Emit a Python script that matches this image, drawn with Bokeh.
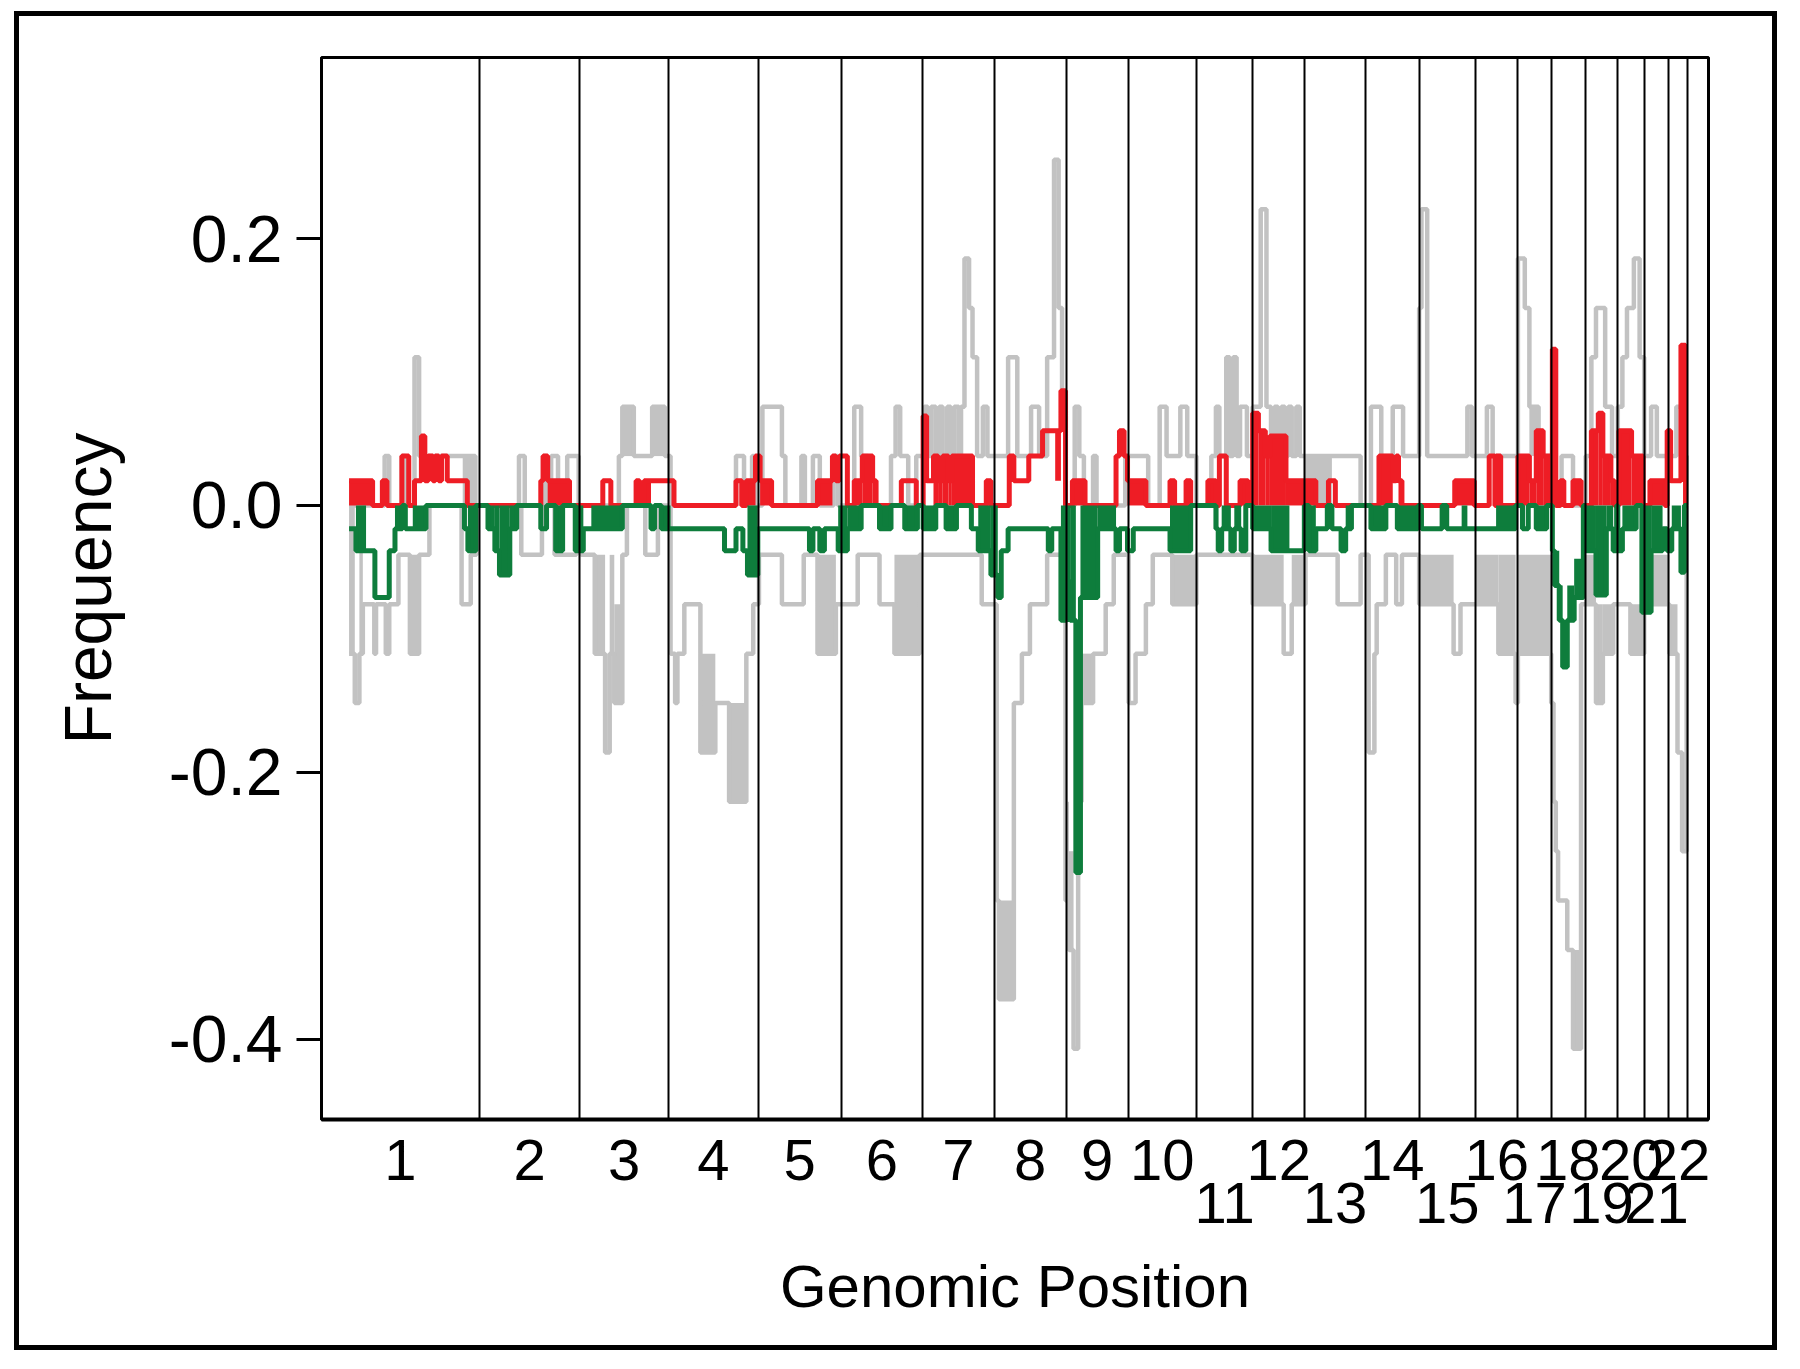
from bokeh.plotting import figure
from bokeh.models import FixedTicker, LinearAxis, Range1d
from bokeh.embed import file_html
from bokeh.resources import INLINE

# ---------------- data ----------------
# genomic position is in clone-index units; chromosome end positions
chrom_ends = [137.5, 225, 302, 380.5, 452.5, 523.5, 586, 648.5, 702.5, 762, 811,
              856.5, 909, 956, 1005, 1042, 1071, 1100.5, 1129, 1152.5, 1173, 1190]
chrom_names = [str(i) for i in range(1, 23)]
y_ticks = [-0.4, -0.2, 0.0, 0.2]
y_tick_labels = ["-0.4", "-0.2", "0.0", "0.2"]
data_end = 1190

# steps: (start position, frequency, dense-to level or None)
gain_steps = [
    (24, 0.0185, 0), (44.5, 0, None), (53, 0.0185, None), (57, 0, None), (70, 0.037, None), (76, 0, None),
    (81, 0.0185, None), (87, 0.052, None), (90, 0.0185, None), (93, 0.037, None), (97, 0.0185, None),
    (99, 0.037, None), (102, 0.0185, None), (104.5, 0.037, None), (109.5, 0.0185, None), (127, 0, None),
    (191, 0.0185, None), (193, 0.037, None), (197, 0.0185, 0), (216, 0, None),
    (245, 0.0185, None), (252, 0, None), (274, 0.0185, None), (277, 0, None), (281, 0.0185, 0),
    (287, 0.0185, None), (307, 0, None),
    (361, 0.0185, None), (366, 0, None), (370, 0.0185, 0), (378, 0.037, None), (382, 0.0185, 0), (392, 0, None),
    (432, 0.0185, 0), (445, 0.037, None), (448, 0.0185, None), (451, 0.037, None), (458, 0, None),
    (464, 0.0185, 0), (471, 0.037, 0), (480, 0.0185, 0), (483, 0, None), (505, 0.0185, None), (518, 0, None),
    (524, 0.067, None), (527, 0.0185, None), (533, 0.037, 0), (537, 0.0185, 0), (541, 0.037, 0),
    (546, 0.0185, 0), (549, 0.037, 0), (567, 0, None), (579, 0.0185, None), (583, 0, None),
    (599, 0.037, None), (603, 0.0185, None), (616, 0.037, None), (628, 0.056, None), (639, 0.056, 0.0185),
    (644, 0.086, None), (648, 0, None),
    (654, 0.0185, 0), (665, 0, None), (692, 0.037, None), (695, 0.056, None), (699, 0.037, None),
    (702, 0.0185, 0), (718, 0, None), (739, 0.0185, None), (743, 0, None), (753, 0.0185, None), (757, 0, None),
    (772, 0.0185, 0), (779, 0, None), (782, 0.037, None), (788, 0, None), (800, 0.0185, 0), (807, 0, None),
    (811, 0.069, 0), (816, 0.056, 0), (822, 0.037, 0), (826, 0.052, 0), (840, 0.0185, 0), (856, 0, None),
    (857, 0.0185, 0), (866, 0, None), (877, 0.0185, None), (883, 0, None),
    (921, 0.037, 0), (933, 0.0185, None), (936, 0.037, None), (938, 0.0185, 0), (941, 0, None),
    (987, 0.0185, 0), (1004, 0, None),
    (1017, 0.037, None), (1022, 0, None), (1023, 0.037, 0), (1027, 0, None),
    (1042, 0.037, 0), (1052, 0.0185, 0), (1058, 0.056, 0), (1064, 0.037, 0), (1070, 0, None),
    (1072, 0.117, None), (1075, 0, None), (1079, 0.0185, None), (1082, 0, None), (1090, 0.0185, 0), (1097, 0, None),
    (1106, 0.056, 0), (1112, 0.069, 0), (1116, 0.037, 0), (1123, 0.0185, 0), (1126, 0, None),
    (1130, 0.056, 0), (1141, 0.037, 0), (1151, 0, None),
    (1157, 0.0185, 0), (1170, 0, None), (1172, 0.056, None), (1175, 0.0185, None),
    (1184, 0.12, None), (1188, 0, None),
]

loss_steps = [
    (24, -0.0175, None), (30, -0.034, 0), (38.8, -0.034, None), (46.5, -0.069, None), (59, -0.034, None),
    (64, -0.0175, 0), (70.5, 0, None), (73, -0.0175, None), (79.5, -0.0175, 0), (91, 0, None),
    (124.5, -0.0175, None), (127.5, -0.034, 0), (134.5, 0, None),
    (145, -0.0175, 0), (151, -0.034, 0), (155, -0.052, 0), (164, -0.0175, 0), (170, 0, None),
    (191, -0.0175, None), (196, 0, None), (204, -0.034, 0), (210, 0, None), (221, -0.034, 0),
    (228, -0.0175, None), (235, -0.0175, 0), (262, 0, None), (287, -0.0175, None), (290, 0, None),
    (296, -0.0175, 0), (304, -0.0175, None),
    (351, -0.034, None), (361, -0.0175, None), (367, -0.034, None), (371, -0.052, 0), (380, -0.0175, None),
    (425, -0.034, None), (428, -0.0175, None), (434, -0.034, None), (438, -0.0175, None), (450, -0.034, 0),
    (458, -0.0175, 0), (470, 0, None), (486, -0.0175, 0), (496, 0, None), (508, -0.0175, 0), (519, 0, None),
    (524, -0.0175, 0), (535, 0, None), (544, -0.0175, 0), (553, 0, None), (566, -0.0175, None),
    (572, -0.034, 0), (583, -0.052, 0), (589, -0.069, None), (592, -0.034, None),
    (598, -0.0175, None), (633, -0.034, None), (636, -0.0175, None),
    (644, -0.086, 0), (649, -0.057, 0), (652, -0.086, 0), (657, -0.275, None), (661, -0.069, 0),
    (676, -0.0175, 0), (692, -0.034, None), (695, -0.0175, None),
    (702, -0.034, None), (707, -0.0175, None), (739, -0.034, 0), (757, 0, None),
    (779, -0.0175, 0), (781, -0.034, None), (784, -0.0175, 0), (792, -0.034, None), (795, -0.0175, 0),
    (801, -0.034, None), (805, 0, None),
    (811, -0.0175, 0), (827, -0.034, 0), (843, -0.034, None), (856, 0, None),
    (860, -0.034, 0), (866, -0.0175, None), (876, 0, None), (880, -0.0175, None), (888, -0.034, None),
    (892, -0.0175, 0), (897, 0, None),
    (914, -0.0175, 0), (927, 0, None), (937, -0.0175, 0), (955, 0, None),
    (958, -0.0175, None), (976, 0, None), (980, -0.0175, None), (993, -0.0175, 0), (998, -0.0175, None),
    (1023, -0.0175, 0), (1040, 0, None),
    (1046, -0.0175, None), (1051, 0, None), (1058, -0.0175, 0), (1067, 0, None),
    (1072, -0.034, None), (1074, -0.06, -0.034), (1078, -0.086, -0.06), (1081, -0.121, None),
    (1085, -0.086, -0.06), (1091, -0.069, -0.04), (1099, 0, None),
    (1100, -0.034, 0), (1110, -0.067, 0), (1119, -0.0175, 0), (1125, -0.034, None), (1128, 0, None),
    (1129, -0.034, None), (1133, -0.0175, 0), (1145, 0, None), (1150, -0.08, 0),
    (1158, -0.034, 0), (1168, -0.0175, None), (1172, -0.034, None),
    (1176, -0.0175, 0), (1184, -0.05, None), (1187, 0, None),
]

ref_gain_steps = [
    (24, 0, None), (55, 0.037, None), (59, 0, None), (70, 0.037, None), (73, 0, None), (81, 0.111, None),
    (85, 0.037, None), (123, 0.037, 0), (134, 0, None),
    (172, 0.037, None), (177, 0, None), (193, 0.037, None), (196, 0, None), (200, 0.037, None), (206, 0, None),
    (214, 0.037, None), (224, 0, None),
    (259, 0.037, None), (262, 0.074, 0.037), (272, 0.037, None), (288, 0.074, 0.037), (299, 0.037, None),
    (304, 0, None),
    (361, 0.037, None), (368, 0, None), (375, 0.037, None), (378, 0, None),
    (384, 0.074, None), (401, 0.037, None), (404, 0, None), (418, 0.037, None), (421, 0, None),
    (428, 0.037, None), (434, 0, None), (446, 0.037, None), (450, 0, None),
    (464, 0.074, None), (470, 0.037, None), (476, 0, None), (496, 0.037, None), (500, 0.074, None),
    (504, 0.037, None), (511, 0, None), (518, 0.037, None),
    (525, 0.074, None), (528, 0.037, None), (531, 0.074, None), (535, 0.037, None), (538, 0.074, None),
    (541, 0.037, None), (545, 0.074, None), (548, 0.037, None), (551, 0.074, None), (555, 0.037, None),
    (557, 0.074, None), (560, 0.185, None), (564, 0.148, None), (567, 0.111, None), (571, 0.037, None),
    (576, 0.074, None), (580, 0.037, None),
    (588, 0.037, None), (598, 0.111, None), (606, 0.037, None), (618, 0.074, None), (625, 0.037, None),
    (632, 0.111, None), (638, 0.259, None), (642, 0.148, None), (645, 0.074, None),
    (648, 0, None), (656, 0.074, None), (660, 0.037, None), (664, 0, None), (672, 0.037, None), (675, 0, None),
    (700, 0.037, None), (720, 0, None), (730, 0.074, None), (736, 0.037, None), (748, 0.074, None),
    (754, 0.037, None), (762, 0, None),
    (775, 0.037, None), (779, 0.074, None), (782, 0.037, None), (788, 0.111, None), (791, 0.037, None),
    (794, 0.111, None), (797, 0.037, None), (800, 0.074, None), (806, 0.037, None),
    (811, 0.074, None), (818, 0.222, None), (823, 0.074, None), (827, 0.037, None), (830, 0.074, None),
    (833, 0.037, None), (836, 0.074, None), (839, 0.037, None), (842, 0.074, None), (845, 0.037, None),
    (849, 0.074, None), (852, 0.037, None), (856, 0.037, 0), (880, 0.037, None), (905, 0, None),
    (914, 0.074, None), (923, 0.037, None), (933, 0.074, None), (942, 0.037, None),
    (956, 0.148, None), (958, 0.222, None), (963, 0.037, None), (998, 0.074, None), (1002, 0.037, None),
    (1015, 0.074, None), (1020, 0.037, None),
    (1042, 0.185, None), (1048, 0.148, None), (1052, 0.074, 0.037), (1060, 0.037, None), (1075, 0, None),
    (1080, 0.037, None), (1090, 0, None),
    (1101, 0.037, None), (1106, 0.111, None), (1110, 0.148, None), (1118, 0.074, None), (1124, 0.037, None),
    (1129, 0.074, None), (1133, 0.111, None), (1137, 0.148, None), (1143, 0.185, None), (1148, 0.111, None),
    (1152, 0.037, None), (1158, 0.074, None), (1163, 0.037, None),
    (1180, 0.074, None), (1186, 0.037, None), (1189, 0, None),
]

ref_loss_steps = [
    (24, -0.111, 0), (29, -0.148, None), (33, -0.111, 0), (36, -0.074, None), (46, -0.111, None),
    (47.5, -0.074, None), (56, -0.111, None), (59, -0.074, None), (67, -0.037, None), (77, -0.111, -0.037),
    (85, -0.037, None), (94, 0, None), (122, -0.074, None), (130, -0.037, None), (135, 0, None),
    (174, -0.037, None), (192, 0, None), (203, -0.037, None), (222, 0, None),
    (226, -0.037, None), (238, -0.111, -0.037), (247, -0.185, None), (251, -0.111, -0.037),
    (255, -0.148, -0.074), (262, -0.037, None), (266, 0, None), (282, -0.037, None), (293, 0, None),
    (304, -0.111, None), (308, -0.148, None), (310, -0.111, None), (316, -0.074, None), (330, -0.185, -0.111),
    (343, -0.148, None), (355, -0.222, -0.148), (370, -0.111, None), (376, -0.074, None), (381, -0.037, None),
    (401, -0.074, None), (420, -0.037, None), (432, -0.111, -0.037), (448, -0.074, None),
    (467, -0.037, None), (486, -0.074, None), (499, -0.111, -0.037), (521, -0.037, None),
    (575, -0.074, None),
    (588, -0.296, None), (590, -0.37, -0.296), (603, -0.148, None), (610, -0.111, None), (617, -0.074, None),
    (632, -0.037, None),
    (648, -0.296, -0.222), (651, -0.333, -0.259), (655, -0.407, None), (659, -0.222, None),
    (662, -0.148, -0.111), (672, -0.111, None), (683, -0.074, None), (690, -0.037, None),
    (703, -0.148, None), (709, -0.111, None), (718, -0.074, None), (724, -0.037, None), (741, -0.074, -0.037),
    (762, -0.037, None),
    (811, -0.074, -0.037), (838, -0.111, None), (845, -0.074, -0.037),
    (857, -0.037, None), (885, -0.074, None), (905, -0.037, None), (912, -0.185, None),
    (917, -0.111, None), (919, -0.074, None), (927, -0.037, None), (936, -0.074, None), (941, -0.037, None),
    (956, -0.074, -0.037), (986, -0.111, None), (992, -0.074, None),
    (1005, -0.074, -0.037), (1025, -0.111, -0.037), (1040, -0.148, None),
    (1042, -0.111, -0.037),
    (1071, -0.148, None), (1073, -0.222, None), (1075, -0.259, None), (1077, -0.296, None),
    (1085, -0.333, None), (1090, -0.407, -0.333), (1097, -0.074, None),
    (1101, -0.074, -0.037), (1110, -0.148, -0.074), (1116, -0.111, -0.074), (1125, -0.074, None),
    (1129, -0.074, None), (1140, -0.111, -0.074),
    (1152, -0.074, -0.037),
    (1174, -0.111, -0.074), (1181, -0.185, None), (1185, -0.259, None), (1189, 0, None),
]

# ---------------- styling ----------------
RED = "#EE1D25"
GREEN = "#0E7D3C"
GRAY = "#C2C2C2"
FONT = "Liberation Sans"

p = figure(width=1763, height=1339, x_range=Range1d(0, 1208), y_range=Range1d(-0.46, 0.3356),
           output_backend="svg", toolbar_location=None,
           min_border_left=302, min_border_top=41, min_border_right=74, min_border_bottom=236)
p.styles = {"border": "5px solid black", "margin": "11px 0px 0px 14px"}
p.xgrid.visible = False
p.ygrid.visible = False
p.outline_line_color = "black"
p.outline_line_width = 3
p.background_fill_color = "white"
p.border_fill_color = "white"


def draw_series(steps, color, width):
    xs = [s[0] for s in steps] + [data_end]
    ys = [s[1] for s in steps] + [steps[-1][1]]
    left, right, bottom, top = [], [], [], []
    for i, s in enumerate(steps):
        if s[2] is not None:
            left.append(s[0])
            right.append(xs[i + 1])
            bottom.append(min(s[1], s[2]))
            top.append(max(s[1], s[2]))
    if left:
        p.quad(left=left, right=right, bottom=bottom, top=top, fill_color=color, line_color=None)
    p.step(x=xs, y=ys, mode="after", line_color=color, line_width=width)


draw_series(ref_gain_steps, GRAY, 4.5)
draw_series(ref_loss_steps, GRAY, 4.5)
draw_series(gain_steps, RED, 5)
draw_series(loss_steps, GREEN, 5)

p.vspan(x=chrom_ends, line_color="black", line_width=2)

# y axis
yax = p.yaxis[0]
yax.ticker = FixedTicker(ticks=y_ticks)
yax.major_label_overrides = {t: l for t, l in zip(y_ticks, y_tick_labels)}
yax.major_tick_out = 25
yax.major_tick_in = 0
yax.major_tick_line_width = 3
yax.minor_tick_line_color = None
yax.axis_line_width = 3
yax.major_label_text_font = FONT
yax.major_label_text_font_size = "66px"
yax.major_label_text_color = "black"
yax.major_label_standoff = 14
yax.axis_label = "Frequency"
yax.axis_label_text_font = FONT
yax.axis_label_text_font_size = "66px"
yax.axis_label_text_font_style = "normal"
yax.axis_label_text_color = "black"
yax.axis_label_standoff = 41

# chromosome labels on two rows
starts = [0] + chrom_ends[:-1]
centers = [(a + b) / 2 for a, b in zip(starts, chrom_ends)]
row1 = [(c, n) for c, n in zip(centers, chrom_names) if not (int(n) >= 11 and int(n) % 2 == 1)]
row2 = [(c, n) for c, n in zip(centers, chrom_names) if (int(n) >= 11 and int(n) % 2 == 1)]

xax = p.xaxis[0]
xax.ticker = FixedTicker(ticks=[c for c, _ in row1])
xax.major_label_overrides = {c: n for c, n in row1}
xax.major_tick_line_color = None
xax.minor_tick_line_color = None
xax.axis_line_width = 4
xax.major_label_text_font = FONT
xax.major_label_text_font_size = "58px"
xax.major_label_text_color = "black"
xax.major_label_standoff = 14

xax2 = LinearAxis(ticker=FixedTicker(ticks=[c for c, _ in row2]),
                  major_label_overrides={c: n for c, n in row2})
xax2.axis_line_color = None
xax2.major_tick_line_color = None
xax2.minor_tick_line_color = None
xax2.major_label_text_font = FONT
xax2.major_label_text_font_size = "58px"
xax2.major_label_text_color = "black"
xax2.major_label_standoff = -6
xax2.axis_label = "Genomic Position"
xax2.axis_label_text_font = FONT
xax2.axis_label_text_font_size = "60px"
xax2.axis_label_text_font_style = "normal"
xax2.axis_label_text_color = "black"
xax2.axis_label_standoff = 27
p.add_layout(xax2, "below")

open("out.html", "w").write(file_html(p, INLINE))
